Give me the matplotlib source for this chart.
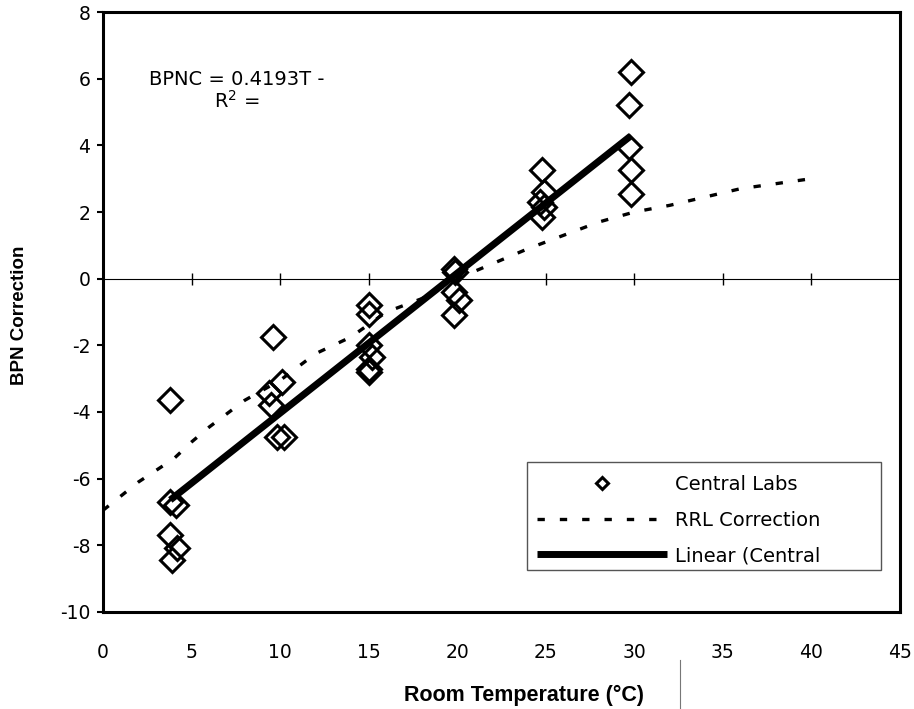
import matplotlib
matplotlib.use("Agg")
import matplotlib.pyplot as plt
import numpy as np
from matplotlib.lines import Line2D
from matplotlib.patches import Rectangle

# Central Labs measurements (room temp in C, BPN correction)
temp = [3.8, 3.8, 4.1, 3.8, 4.2, 3.9,
        9.6, 10.1, 9.4, 9.5, 9.8, 10.2,
        15.0, 15.0, 15.0, 15.2, 15.0, 15.0,
        19.8, 19.9, 19.8, 20.1, 19.8,
        24.8, 24.9, 24.7, 24.9, 24.8,
        29.8, 29.7, 29.7, 29.8, 29.8]
bpnc = [-3.64, -6.7, -6.8, -7.69, -8.09, -8.44,
        -1.74, -3.09, -3.44, -3.79, -4.74, -4.74,
        -0.8, -1.05, -2.0, -2.35, -2.7, -2.8,
        0.3, 0.2, -0.4, -0.65, -1.1,
        3.26, 2.6, 2.3, 2.15, 1.85,
        6.2, 5.2, 3.95, 3.25, 2.55]

# RRL correction curve
rrl_t = [0, 2, 4, 5, 6, 8, 10, 12, 14, 16, 18, 20, 22, 24, 26, 28, 30, 32, 34, 36, 38, 40]
rrl_c = [-6.95, -6.1, -5.4, -4.9, -4.45, -3.65, -3.05, -2.25, -1.75, -1.0, -0.6, 0.0,
         0.45, 0.9, 1.3, 1.7, 2.0, 2.2, 2.45, 2.7, 2.85, 3.0]

xticks = list(range(0, 50, 5))
yticks = list(range(-10, 10, 2))

plt.rcParams['font.family'] = "DejaVu Sans"
plt.rcParams['axes.unicode_minus'] = False

fig = plt.figure(figsize=(9.14, 7.09), dpi=100)
ax = fig.add_axes([103/914, 1-612/709, 797/914, 600/709])

# linear trendline through central labs data
k, b = np.polyfit(temp, bpnc, 1)
tfit = np.array([min(temp), max(temp)])

ax.plot(temp, bpnc, linestyle="none", marker="D", markersize=12,
        markerfacecolor="none", markeredgecolor="black", markeredgewidth=2.2,
        label="Central Labs", zorder=3)
ax.plot(rrl_t, rrl_c, color="black", lw=2.4, linestyle=(0, (2.2, 4.5)),
        label="RRL Correction", zorder=2)
ax.plot(tfit, k*tfit + b, color="black", lw=5, solid_capstyle="butt",
        label="Linear (Central", zorder=4)

ax.set_xlim(0, 45)
ax.set_ylim(-10, 8)
ax.set_xticks(xticks)
ax.set_yticks(yticks)
ax.tick_params(axis="x", length=0, pad=22, labelsize=13.5)
ax.tick_params(axis="y", direction="out", length=4, width=1.5, pad=5, labelsize=13.5)
for s in ax.spines.values():
    s.set_linewidth(2.2)
    s.set_color("black")

# horizontal axis line at y = 0 with crossing ticks
sec = ax.secondary_xaxis(10/18)
sec.set_xticks(xticks, labels=[""] * len(xticks))
sec.tick_params(direction="inout", length=9, width=1)
sec.spines["bottom"].set_linewidth(1)
sec.spines["bottom"].set_color("#444444")

ax.text(0.168, 0.868, "BPNC = 0.4193T -\nR$^{\\mathregular{2}}$ =", transform=ax.transAxes,
        ha="center", va="center", multialignment="center", fontsize=14,
        linespacing=1.05)

leg = ax.legend(loc="upper left", bbox_to_anchor=((537-103)/797, (612-475)/600),
                fontsize=14, handlelength=6.7, handletextpad=0.4,
                labelspacing=0.85, borderpad=0, frameon=False,
                borderaxespad=0, markerscale=0.55)
# legend frame, wider than the entries like in the original
ax.add_patch(Rectangle(((527-103)/797, (612-570)/600), 354/797, 108/600,
                       transform=ax.transAxes, fill=False, edgecolor="#555555",
                       lw=1, zorder=5))

fig.text(524/914, 1-695/709, "Room Temperature (°C)", ha="center", va="center",
         fontsize=15.5, fontweight="bold", family="Liberation Sans")
fig.text(20/914, 1-315/709, "BPN Correction", ha="center", va="center",
         rotation=90, fontsize=13.5, fontweight="bold", family="Liberation Sans")

# stray scan line under the x label
fig.add_artist(Line2D([680/914, 680/914], [0, 1-660/709], color="#777777", lw=0.8))

fig.savefig("out.png", dpi=100)
